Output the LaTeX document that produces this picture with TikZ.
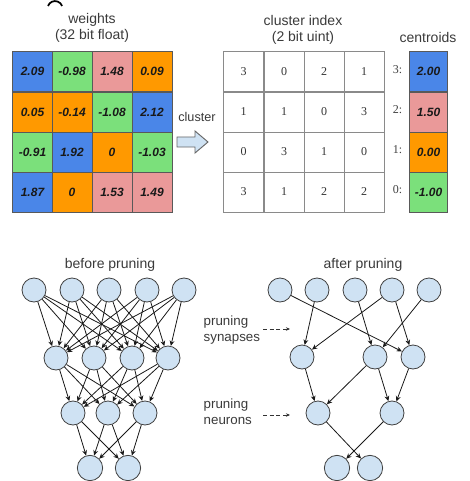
\documentclass[tikz,border=0pt]{standalone}
\usepackage{fontspec}
\setmainfont{Liberation Serif}
\newfontfamily\arial{Liberation Sans}
\usetikzlibrary{arrows.meta}
\definecolor{cblue}{HTML}{4A86E8}
\definecolor{cgreen}{HTML}{7BE07B}
\definecolor{cpink}{HTML}{EA9999}
\definecolor{corange}{HTML}{FF9900}
\definecolor{nodefill}{HTML}{CFE2F3}
\definecolor{txt}{HTML}{3A3A3A}
\definecolor{gridgray}{HTML}{8A8A8A}
\tikzset{
  wcell/.style={draw=black!65, line width=0.6pt, minimum width=30pt, minimum height=30pt, inner sep=0pt,
    font=\arial\bfseries\itshape\fontsize{9}{11}\selectfont, text=black!90},
  icell/.style={draw=gridgray, line width=0.6pt, minimum width=30pt, minimum height=30pt, inner sep=0pt,
    font=\fontsize{9}{11}\selectfont, text=black!80},
  title/.style={font=\arial\fontsize{10.5}{12}\selectfont, text=txt, align=center},
  lbl/.style={font=\arial\fontsize{10}{12}\selectfont, text=txt, align=left, anchor=west},
  neuron/.style={circle, draw=black!75, fill=nodefill, line width=0.6pt, minimum size=18pt, inner sep=0pt},
  syn/.style={-{Stealth[length=4pt,width=3.6pt]}, line width=0.6pt, black!90},
  dasharrow/.style={-{Stealth[length=3pt,width=2.6pt]}, dashed, dash pattern=on 3pt off 2pt, line width=0.6pt, black!80},
}
\begin{document}
\begin{tikzpicture}[x=0.75pt,y=-0.75pt]
\useasboundingbox (0,0) rectangle (469,481);
% partial glyph at top
\draw[line width=1.3pt, black] (48,6) arc[start angle=200, end angle=340, radius=7.5];

% ---------- weights ----------
\node[title] (wt) at (92,28) {weights\\(32 bit float)};
\def\wx{{32.5,72,112,152}}
\def\wy{{71.5,112,152,192}}
\foreach \r/\row in {0/{cblue/2.09,cgreen/-0.98,cpink/1.48,corange/0.09},
                      1/{corange/0.05,corange/-0.14,cgreen/-1.08,cblue/2.12},
                      2/{cgreen/-0.91,cblue/1.92,corange/0,cgreen/-1.03},
                      3/{cblue/1.87,corange/0,cpink/1.53,cpink/1.49}}{
  \foreach \col/\v [count=\c from 0] in \row {
    \pgfmathsetmacro{\xx}{\wx[\c]}
    \pgfmathsetmacro{\yy}{\wy[\r]}
    \node[wcell, fill=\col] (w-\r-\c) at (\xx,\yy) {\v};
  }
}

% ---------- cluster arrow ----------
\node[font=\arial\fontsize{9.5}{11}\selectfont, text=txt] (cl) at (197,117) {cluster};
\draw[fill=nodefill, draw=black!60, line width=0.7pt]
  (177,137) -- (195,137) -- (195,131) -- (208,142) -- (195,153) -- (195,147) -- (177,147) -- cycle;

% ---------- cluster index ----------
\node[title] (ct) at (303,30) {cluster index\\(2 bit uint)};
\def\cx{{243.5,284,324,364}}
\foreach \r/\row in {0/{3,0,2,1},1/{1,1,0,3},2/{0,3,1,0},3/{3,1,2,2}}{
  \foreach \v [count=\c from 0] in \row {
    \pgfmathsetmacro{\xx}{\cx[\c]}
    \pgfmathsetmacro{\yy}{\wy[\r]}
    \node[icell] (c-\r-\c) at (\xx,\yy) {\v};
  }
}

% ---------- centroids ----------
\node[title] (kt) at (428,37) {centroids};
\foreach \col/\lab/\v [count=\r from 0] in {cblue/3/2.00,cpink/2/1.50,corange/1/0.00,cgreen/0/-1.00}{
  \pgfmathsetmacro{\yy}{\wy[\r]}
  \node[wcell, fill=\col, minimum width=29pt] (k-\r) at (428.5,\yy) {\v};
  \node[font=\fontsize{9}{11}\selectfont, text=black!75, anchor=east] (kl-\r) at (407,\yy-2) {\lab:};
}

% ---------- before pruning ----------
\node[title] (bt) at (110,265) {before pruning};
\foreach \x [count=\i] in {34,72,109,147,184} \node[neuron] (a1-\i) at (\x,290) {};
\foreach \x [count=\i] in {56,94,132,168} \node[neuron] (a2-\i) at (\x,358) {};
\foreach \x [count=\i] in {73,108,145} \node[neuron] (a3-\i) at (\x,413) {};
\foreach \x [count=\i] in {90,128} \node[neuron, minimum size=19pt] (a4-\i) at (\x,468) {};
\foreach \i in {1,...,5} \foreach \j in {1,...,4} \draw[syn] (a1-\i) -- (a2-\j);
\foreach \i in {1,...,4} \foreach \j in {1,...,3} \draw[syn] (a2-\i) -- (a3-\j);
\foreach \i in {1,...,3} \foreach \j in {1,...,2} \draw[syn] (a3-\i) -- (a4-\j);

% ---------- labels ----------
\node[lbl] (ls) at (199,330) {pruning\\synapses};
\node[lbl] (ln) at (199,412) {pruning\\neurons};
\coordinate (ds1) at (263,329);
\coordinate (de1) at (290,329);
\coordinate (ds2) at (263,415);
\coordinate (de2) at (290,415);
\draw[dasharrow] (ds1) -- (de1);
\draw[dasharrow] (ds2) -- (de2);

% ---------- after pruning ----------
\node[title] (at) at (363,265) {after pruning};
\foreach \x [count=\i] in {280,317,355,392,429} \node[neuron] (b1-\i) at (\x,290) {};
\foreach \x [count=\i] in {302,375,413} \node[neuron] (b2-\i) at (\x,357) {};
\foreach \x [count=\i] in {318,392} \node[neuron] (b3-\i) at (\x,413) {};
\foreach \x [count=\i] in {337,370} \node[neuron, minimum size=19pt] (b4-\i) at (\x,468) {};
\foreach \i/\j in {1/3,2/1,3/2,4/1,4/3,5/2} \draw[syn] (b1-\i) -- (b2-\j);
\foreach \i/\j in {1/1,2/1,2/2,3/2} \draw[syn] (b2-\i) -- (b3-\j);
\foreach \i/\j in {1/2,2/1} \draw[syn] (b3-\i) -- (b4-\j);
\end{tikzpicture}
\end{document}
